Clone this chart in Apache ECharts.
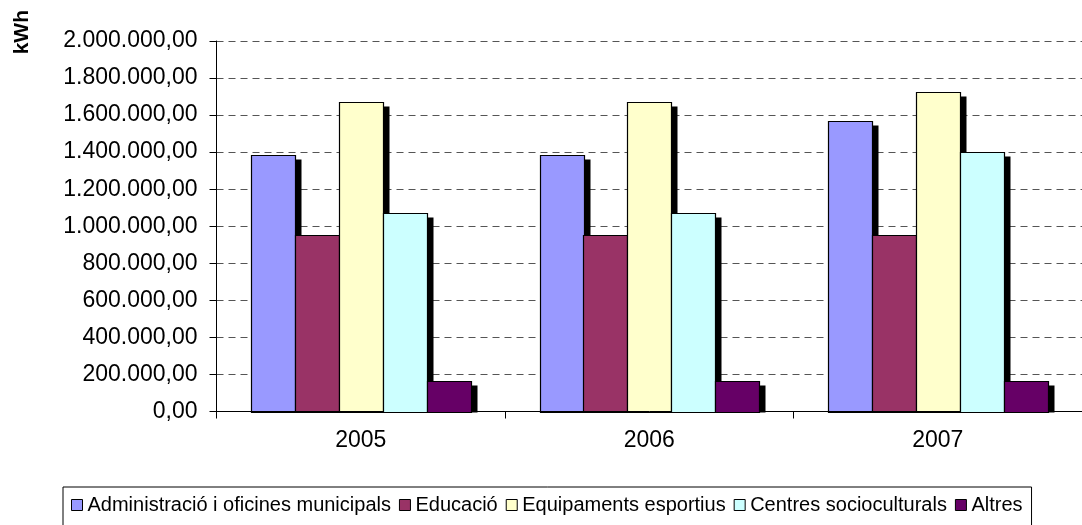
<!DOCTYPE html>
<html>
<head>
<meta charset="utf-8">
<script src="https://cdn.jsdelivr.net/npm/echarts@6/dist/echarts.min.js"></script>
<style>
  html, body { margin: 0; padding: 0; background: #fff; }
  #chart { width: 1082px; height: 525px; }
</style>
</head>
<body>
<div id="chart"></div>
<script>
const years = ['2005', '2006', '2007'];
const seriesNames = [
  'Administració i oficines municipals',
  'Educació',
  'Equipaments esportius',
  'Centres socioculturals',
  'Altres'
];
const administracio = [1385000, 1385000, 1570000];
const educacio = [953000, 953000, 953000];
const equipaments = [1670000, 1670000, 1727000];
const centres = [1070000, 1070000, 1403000];
const altres = [167000, 167000, 167000];
const colors = ['#9999FF', '#993366', '#FFFFCC', '#CCFFFF', '#660066'];

const FONT = '"Liberation Sans", Arial, sans-serif';
const GROUP = 0.76;   // share of the category band taken by the 5 bars
const SHADOW = [6, 4];

// 1234567 -> "1.234.567,00"
function fmt(v) {
  const s = Math.round(v).toString().replace(/\B(?=(\d{3})+(?!\d))/g, '.');
  return s + ',00';
}

const values = [administracio, educacio, equipaments, centres, altres];

// clustered bar with an Excel-like hard drop shadow
function makeRenderer(idx, count) {
  return function (params, api) {
    const cat = api.value(0);
    const base = api.coord([cat, 0]);
    const top = api.coord([cat, api.value(1)]);
    const band = api.size([1, 0])[0];
    const groupW = band * GROUP;
    const bw = groupW / count;
    const x = Math.round(base[0] - groupW / 2 + idx * bw) + 0.5;
    const y = Math.round(top[1]) + 0.5;
    const w = Math.round(bw);
    const h = Math.round(base[1]) - y + 0.5;
    return {
      type: 'group',
      children: [
        {
          type: 'rect',
          shape: { x: x + SHADOW[0], y: y + SHADOW[1], width: w, height: Math.max(0, h - SHADOW[1]) },
          style: { fill: '#000' }
        },
        {
          type: 'rect',
          shape: { x: x, y: y, width: w, height: h },
          style: { fill: colors[idx], stroke: '#000', lineWidth: 1.2 }
        }
      ]
    };
  };
}

const chart = echarts.init(document.getElementById('chart'), null, {
  renderer: 'canvas',
  devicePixelRatio: 1
});

chart.setOption({
  animation: false,
  color: colors,
  textStyle: { fontFamily: FONT },
  grid: { left: 216.5, top: 41, right: -6, bottom: 113.5, containLabel: false },
  legend: {
    left: 63,
    top: 487,
    orient: 'horizontal',
    icon: 'rect',
    itemWidth: 11,
    itemHeight: 11,
    itemGap: 8,
    padding: [8, 9, 40, 8],
    borderColor: '#000',
    borderWidth: 1,
    backgroundColor: '#fff',
    itemStyle: { borderColor: '#000', borderWidth: 1 },
    textStyle: { fontSize: 20, color: '#000', fontFamily: FONT },
    data: seriesNames
  },
  xAxis: {
    type: 'category',
    data: years,
    z: 4,
    axisLine: { lineStyle: { color: '#000', width: 1 } },
    axisTick: { show: true, length: 7, lineStyle: { color: '#000' } },
    axisLabel: { fontSize: 23, color: '#000', margin: 18, fontFamily: FONT }
  },
  yAxis: {
    type: 'value',
    min: 0,
    max: 2000000,
    interval: 200000,
    axisLine: { show: true, lineStyle: { color: '#000', width: 1 } },
    axisTick: { show: true, length: 7, lineStyle: { color: '#000' } },
    axisLabel: { fontSize: 23, color: '#000', margin: 19, fontFamily: FONT, formatter: fmt },
    splitLine: { show: true, lineStyle: { color: '#555', type: [7, 5], width: 1 } }
  },
  graphic: [
    {
      type: 'text',
      left: 12,
      top: 10,
      rotation: Math.PI / 2,
      style: { text: 'kWh', font: 'bold 21px ' + FONT, fill: '#000' }
    }
  ],
  series: seriesNames.map((name, i) => ({
    name: name,
    type: 'custom',
    renderItem: makeRenderer(i, seriesNames.length),
    itemStyle: { color: colors[i] },
    encode: { x: 0, y: 1 },
    data: values[i].map((v, j) => [j, v]),
    z: 2 + i
  }))
});
</script>
</body>
</html>
